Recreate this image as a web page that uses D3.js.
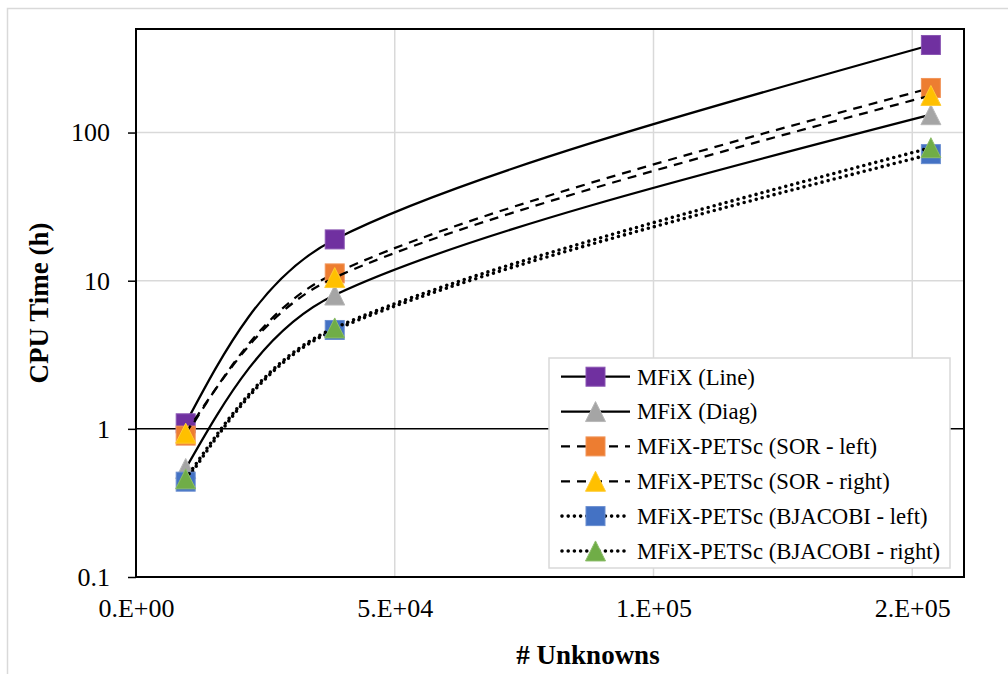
<!DOCTYPE html>
<html>
<head>
<meta charset="utf-8">
<script src="https://cdn.jsdelivr.net/npm/d3@7"></script>
<style>
  html, body { margin: 0; padding: 0; background: #fff; }
  svg { display: block; }
  text { font-family: "Liberation Serif", "Times New Roman", serif; fill: #000; }
</style>
</head>
<body>
<svg id="chart" width="1008" height="674"></svg>
<script>
// ---------------- data ----------------
const unknowns = [9600, 38400, 153600];
const seriesNames = [
  "MFiX (Line)",
  "MFiX (Diag)",
  "MFiX-PETSc (SOR - left)",
  "MFiX-PETSc (SOR - right)",
  "MFiX-PETSc (BJACOBI - left)",
  "MFiX-PETSc (BJACOBI - right)"
];
const mfixLine   = [1.09, 19.0, 390];
const mfixDiag   = [0.54, 8.0, 132];
const sorLeft    = [0.90, 11.2, 200];
const sorRight   = [0.935, 10.5, 178];
const bjLeft     = [0.44, 4.65, 71.5];
const bjRight    = [0.46, 4.8, 79];
const xTickValues = [0, 50000, 100000, 150000];
const xTickLabels = ["0.E+00", "5.E+04", "1.E+05", "2.E+05"];
const yTickValues = [0.1, 1, 10, 100];
const yTickLabels = ["0.1", "1", "10", "100"];

// ---------------- styles ----------------
const DOT = "0,6.2", DASH = "9,7";
const styles = [
  { color: "#7030A0", edge: "#8a55b3", marker: "square",   dash: null },
  { color: "#A5A5A5", edge: "#b8b8b8", marker: "triangle", dash: null },
  { color: "#ED7D31", edge: "#f1955a", marker: "square",   dash: DASH },
  { color: "#FFC000", edge: "#ffcc33", marker: "triangle", dash: DASH },
  { color: "#4472C4", edge: "#6a8ed0", marker: "square",   dash: DOT },
  { color: "#70AD47", edge: "#8cbd6a", marker: "triangle", dash: DOT }
];
const seriesValues = [mfixLine, mfixDiag, sorLeft, sorRight, bjLeft, bjRight];

const svg = d3.select("#chart");
const L = 136, R = 964, T = 29, B = 577;
const x = d3.scaleLinear().domain([0, 160000]).range([L, R]);
const y = d3.scaleLog().domain([0.1, 500]).range([B, T]);

// outer chart border
svg.append("rect").attr("x", 7.5).attr("y", 8.5).attr("width", 1200).attr("height", 1000)
  .attr("fill", "#fff").attr("stroke", "#d9d9d9").attr("stroke-width", 1.5);

// gridlines
const grid = svg.append("g");
grid.selectAll("line.vg").data(xTickValues.filter(d => d > 0)).join("line")
  .attr("x1", d => x(d)).attr("x2", d => x(d)).attr("y1", T).attr("y2", B)
  .attr("stroke", "#d9d9d9").attr("stroke-width", 1.5);
grid.selectAll("line.hg").data([10, 100]).join("line")
  .attr("x1", L).attr("x2", R).attr("y1", d => y(d)).attr("y2", d => y(d))
  .attr("stroke", "#d9d9d9").attr("stroke-width", 1.5);

// horizontal axis line crossing at 1
svg.append("line").attr("x1", L).attr("x2", R).attr("y1", y(1)).attr("y2", y(1))
  .attr("stroke", "#000").attr("stroke-width", 1.5);

// plot area border
svg.append("rect").attr("x", L).attr("y", T).attr("width", R - L).attr("height", B - T)
  .attr("fill", "none").attr("stroke", "#000").attr("stroke-width", 2);

// y axis
const yAxis = d3.axisLeft(y).tickValues(yTickValues)
  .tickFormat((d, i) => yTickLabels[i]).tickSize(8).tickPadding(18);
const gy = svg.append("g").attr("transform", `translate(${L},0)`).call(yAxis);
gy.select(".domain").remove();
gy.selectAll(".tick line").attr("stroke", "#000").attr("stroke-width", 1.5);
gy.selectAll(".tick text").style("font-family", "Liberation Serif").style("font-size", "26px").attr("fill", "#000");

// x axis
const xAxis = d3.axisBottom(x).tickValues(xTickValues)
  .tickFormat((d, i) => xTickLabels[i]).tickSize(0).tickPadding(22);
const gx = svg.append("g").attr("transform", `translate(0,${B})`).call(xAxis);
gx.select(".domain").remove();
gx.selectAll(".tick text").style("font-family", "Liberation Serif").style("font-size", "26px").attr("fill", "#000");

// axis titles
svg.append("text").attr("transform", `translate(48,${(T + B) / 2}) rotate(-90)`)
  .attr("text-anchor", "middle").style("font-size", "27px").style("font-weight", "bold")
  .text("CPU Time (h)");
svg.append("text").attr("x", 588).attr("y", 664)
  .attr("text-anchor", "middle").style("font-size", "27px").style("font-weight", "bold")
  .text("# Unknowns");

// marker drawing helper
function drawMarker(g, type, cx, cy, st) {
  if (type === "square") {
    g.append("rect").attr("x", cx - 9.5).attr("y", cy - 9.5).attr("width", 19).attr("height", 19)
      .attr("fill", st.color).attr("stroke", st.edge).attr("stroke-width", 1);
  } else {
    const h = 20, w = 20;
    g.append("path").attr("d", `M${cx},${cy - h / 2} L${cx + w / 2},${cy + h / 2} L${cx - w / 2},${cy + h / 2} Z`)
      .attr("fill", st.color).attr("stroke", st.edge).attr("stroke-width", 1);
  }
}

// spreadsheet-style smoothed curve through pixel points
function smoothPath(P) {
  const n = P.length;
  const p = d3.path();
  p.moveTo(P[0][0], P[0][1]);
  if (n === 2) { p.lineTo(P[1][0], P[1][1]); return p.toString(); }
  const cin = [], cout = [];
  for (let i = 1; i < n - 1; i++) {
    const hx = (P[i + 1][0] - P[i - 1][0]) / 6, hy = (P[i + 1][1] - P[i - 1][1]) / 6;
    const hl = Math.hypot(hx, hy);
    const dPrev = Math.hypot(P[i][0] - P[i - 1][0], P[i][1] - P[i - 1][1]);
    const dNext = Math.hypot(P[i + 1][0] - P[i][0], P[i + 1][1] - P[i][1]);
    const sIn = Math.min(1, dPrev / (3 * hl)), sOut = Math.min(1, dNext / (3 * hl));
    cin[i] = [P[i][0] - hx * sIn, P[i][1] - hy * sIn];
    cout[i] = [P[i][0] + hx * sOut, P[i][1] + hy * sOut];
  }
  for (let i = 0; i < n - 1; i++) {
    let c1, c2;
    c2 = (i + 1 < n - 1) ? cin[i + 1] : null;
    c1 = (i > 0) ? cout[i] : null;
    if (!c1) c1 = [(P[0][0] + c2[0]) / 2, (P[0][1] + c2[1]) / 2];
    if (!c2) c2 = [(P[n - 1][0] + c1[0]) / 2, (P[n - 1][1] + c1[1]) / 2];
    p.bezierCurveTo(c1[0], c1[1], c2[0], c2[1], P[i + 1][0], P[i + 1][1]);
  }
  return p.toString();
}

function styleStroke(sel, st) {
  const dotted = st.dash === DOT;
  sel.attr("stroke", "#000").attr("stroke-width", dotted ? 3.6 : 2.25);
  if (st.dash) sel.attr("stroke-dasharray", st.dash);
  if (dotted) sel.attr("stroke-linecap", "round");
  return sel;
}

// series
seriesValues.forEach((vals, si) => {
  const st = styles[si];
  const g = svg.append("g");
  const pts = unknowns.map((u, i) => [x(u), y(vals[i])]);
  styleStroke(g.append("path").attr("d", smoothPath(pts)).attr("fill", "none"), st);
  pts.forEach(d => drawMarker(g, st.marker, d[0], d[1], st));
});

// legend
const lg = svg.append("g");
lg.append("rect").attr("x", 549).attr("y", 358).attr("width", 401).attr("height", 210)
  .attr("fill", "#fff").attr("stroke", "#d9d9d9").attr("stroke-width", 1.5);
seriesNames.forEach((name, i) => {
  const st = styles[i];
  const cy = 376.7 + i * 34.85;
  const g = lg.append("g");
  styleStroke(g.append("line").attr("x1", st.dash === DOT ? 562 : 561).attr("x2", 630)
    .attr("y1", cy).attr("y2", cy), st);
  drawMarker(g, st.marker, 595.5, cy, st);
  g.append("text").attr("x", 637).attr("y", cy).attr("dy", "0.35em")
    .style("font-size", "22.7px").text(name);
});
</script>
</body>
</html>
